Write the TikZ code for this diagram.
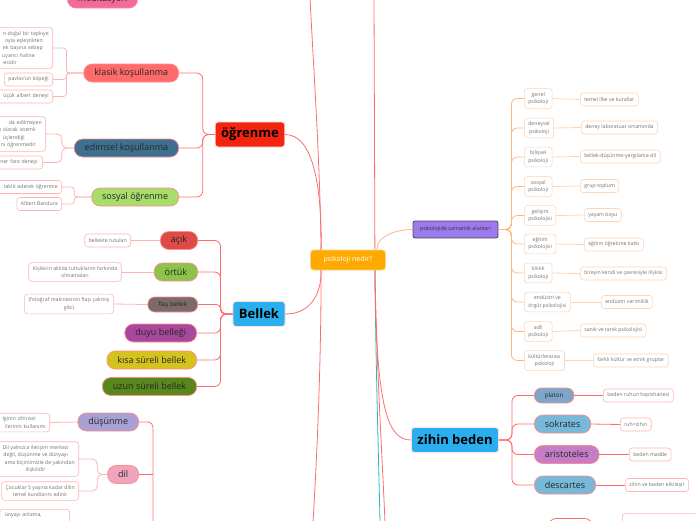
\documentclass[tikz,border=0pt]{standalone}
\usepackage{fontspec}
\setmainfont{Open Sans}
\usepackage{xcolor}
\usepackage{tikz}

\definecolor{linkred}{HTML}{FF6B6B}
\definecolor{leafred}{HTML}{FFB3B3}
\definecolor{linkor}{HTML}{FFB784}
\definecolor{leafor}{HTML}{FFD4B2}
\definecolor{linkteal}{HTML}{2BB7B3}
\definecolor{bord}{HTML}{FF8C8C}
\definecolor{nedirc}{HTML}{FFAA00}
\definecolor{ogrc}{HTML}{F4250F}
\definecolor{klasikc}{HTML}{FF6B6B}
\definecolor{edimselc}{HTML}{3E6F8E}
\definecolor{sosyalc}{HTML}{A8DD6C}
\definecolor{topicblue}{HTML}{29AFEE}
\definecolor{acikc}{HTML}{DE4B47}
\definecolor{ortukc}{HTML}{8CC34B}
\definecolor{flasc}{HTML}{7D6A6A}
\definecolor{duyuc}{HTML}{A8489C}
\definecolor{kisac}{HTML}{D5C31D}
\definecolor{uzunc}{HTML}{58881B}
\definecolor{dusunc}{HTML}{A9A1D3}
\definecolor{dilpink}{HTML}{EEA5BD}
\definecolor{uzmanc}{HTML}{9D79EE}
\definecolor{platonc}{HTML}{7EA6CA}
\definecolor{sokratc}{HTML}{78B8D8}
\definecolor{aristoc}{HTML}{C67DC7}
\definecolor{meditc}{HTML}{F26A9B}

\begin{document}
\begin{tikzpicture}[x=1pt,y=-1pt,line width=0.8pt,
  topic/.style={rounded corners=3pt,draw=red!12,line width=0.8pt,text=black,
    font=\fontsize{13}{15}\selectfont\bfseries,inner xsep=6pt,minimum height=25pt},
  branch/.style={rounded corners=8.5pt,draw=bord,line width=0.7pt,text=black!85,
    font=\fontsize{9}{10}\selectfont,inner xsep=10.5pt,minimum height=18pt},
  minibranch/.style={branch,rounded corners=7pt,font=\fontsize{6.2}{7}\selectfont,
    inner xsep=10.5pt,minimum height=15pt},
  leaf/.style={rounded corners=3pt,draw=leafred,line width=0.6pt,fill=white,text=black!55,
    font=\fontsize{5.2}{7.4}\selectfont,inner xsep=4pt,inner ysep=3.6pt,minimum height=13pt,align=center},
  cutleaf/.style={leaf,align=right,text width=#1},
  orleaf/.style={leaf,draw=leafor},
  redlink/.style={draw=linkred,line width=0.8pt},
  leaflink/.style={draw=leafred,line width=0.8pt},
  orlink/.style={draw=linkor,line width=0.8pt},
  orleaflink/.style={draw=leafor,line width=0.8pt},
  teallink/.style={draw=linkteal,line width=0.8pt}]
  \useasboundingbox (0,0) rectangle (696,520);
  \clip (0,0) rectangle (696,520);

  % centre
  \node[draw=nedirc!50,fill=nedirc,rounded corners=3pt,text=white,
    font=\fontsize{7}{8}\selectfont,minimum width=75pt,minimum height=20pt] (nedir) at (348,260) {psikoloji nedir?};
  \coordinate (ustSol) at (310,-3);
  \coordinate (ustSag) at (374,-3);
  \coordinate (altSol) at (313,523);
  \coordinate (altTeal) at (380,523);
  \coordinate (altSag) at (385,523);

  % ogrenme
  \node[topic,fill=ogrc] (ogrenme) at (250,134.5) {öğrenme};
  \node[branch,fill=klasikc,anchor=east] (klasik) at (179,73) {klasik koşullanma};
  \node[branch,fill=edimselc,anchor=east] (edimsel) at (179,148) {edimsel koşullanma};
  \node[branch,fill=sosyalc,anchor=east] (sosyal) at (179,197) {sosyal öğrenme};
  \node[cutleaf=70pt,anchor=east] (kosulsuz) at (53,48) {n doğal bir tepkiye\\oyla eşleştikten\kern6pt\\ek başına sebep\kern6pt\\uyarıcı haline\kern14pt\\esidir\kern32pt};
  \node[leaf,anchor=east] (pavlov) at (53,79.5) {pavlov'un köpeği};
  \node[cutleaf=60pt,anchor=east] (albert) at (53,96.5) {üçük albert deneyi};
  \node[cutleaf=60pt,anchor=east] (pekistir) at (46,134) {da edilmeyen\\n olarak istemli\kern6pt\\üçlendiği\kern17pt\\nı öğrenmedir\kern6pt};
  \node[cutleaf=50pt,anchor=east] (skinner) at (43,162.5) {ner fare deneyi\kern1pt};
  \node[cutleaf=62pt,anchor=east] (taklit) at (62,187) {taklit ederek öğrenme};
  \node[leaf,anchor=east] (bandura) at (62,204) {Albert Bandura};
  \node[branch,fill=meditc] (medit) at (102.5,-1) {meditasyon};
  \coordinate (meditUst) at (156,-7);

  % bellek
  \node[topic,fill=topicblue] (bellek) at (259,314) {Bellek};
  \node[branch,fill=acikc,anchor=east] (acik) at (198,240.5) {açık};
  \node[branch,fill=ortukc,anchor=east] (ortuk) at (198,272) {örtük};
  \node[minibranch,fill=flasc,anchor=east] (flas) at (198,304.5) {flaş bellek};
  \node[branch,fill=duyuc,anchor=east] (duyu) at (197,333) {duyu belleği};
  \node[branch,fill=kisac,anchor=east] (kisa) at (197,360) {kısa süreli bellek};
  \node[branch,fill=uzunc,anchor=east] (uzun) at (197,386.5) {uzun süreli bellek};
  \node[leaf,anchor=east] (tutulan) at (131,240.5) {bellekte tutulan};
  \node[leaf] (farkinda) at (75,272) {Kişilerin aklıda tuttuklarını farkında\\olmamaları};
  \node[leaf] (fotograf) at (69,304) {(fotoğraf makinesinin flaşı çakmış\\gibi)};

  % dusunme
  \node[branch,fill=dusunc,anchor=east] (dusunme) at (139,422) {düşünme};
  \node[branch,fill=dilpink,anchor=east] (dil) at (139,474.5) {dil};
  \node[cutleaf=60pt,anchor=east] (bilgi) at (50,422.5) {lginin zihinsel\kern10pt\\ilerinin kullanımı};
  \node[leaf,anchor=east] (iletisim) at (79,459) {Dil yalnızca iletişim merkezi\\değil, düşünme ve dünyayı\\\hspace*{8pt}ama biçimimizle de yakından\\ilişkilidir};
  \node[leaf,anchor=east] (cocuklar) at (79,491) {Çocuklar 5 yaşına kadar dilin\\temel kurallarını edinir};
  \node[cutleaf=62pt,anchor=north east,text depth=12pt] (anlama) at (70,509) {ünyayı anlama,\kern24pt};
  \coordinate (dusunAlt) at (153,525);

  % uzmanlik alanlari
  \node[draw=black!70,fill=uzmanc,rounded corners=2pt,font=\fontsize{5.4}{6}\selectfont,text=black!80,
    minimum width=85pt,minimum height=17pt] (uzman) at (455.5,229.5) {psikolojide uzmanlık alanları};
  \node[orleaf,anchor=west] (genel) at (524,98.5) {genel\\psikoloji};
  \node[orleaf,anchor=west] (deneysel) at (524,128) {deneysel\\psikoloji};
  \node[orleaf,anchor=west] (bilissel) at (524,157) {bilişsel\\psikoloji};
  \node[orleaf,anchor=west] (sosyalp) at (524,186.5) {sosyal\\psikoloji};
  \node[orleaf,anchor=west] (gelisim) at (524,215.5) {gelişim\\psikolojisi};
  \node[orleaf,anchor=west] (egitim) at (524,244) {eğitim\\psikolojisi};
  \node[orleaf,anchor=west] (klinik) at (524,273) {klinik\\psikoloji};
  \node[orleaf,anchor=west] (endustri) at (524,302) {endüstri ve\\örgüt psikolojisi};
  \node[orleaf,anchor=west] (adli) at (524,331.5) {adli\\psikoloji};
  \node[orleaf,anchor=west] (kultur) at (524,360.5) {kültürlerarası\\psikoloji};
  \node[orleaf,anchor=west] (ilke) at (580,99.5) {temel ilke ve kurallar};
  \node[orleaf,anchor=west] (lab) at (581,127.5) {deney laboratuar ortamında};
  \node[orleaf,anchor=west] (yargi) at (580,156.5) {bellek-düşünme-yargılama-dil};
  \node[orleaf,anchor=west] (grup) at (580,186) {grup-toplum};
  \node[orleaf,anchor=west] (yasam) at (584,215) {yaşam boyu};
  \node[orleaf,anchor=west] (ogretim) at (584,244.5) {eğitim öğretime katkı};
  \node[orleaf,anchor=west] (birey) at (580,273.5) {bireyin kendi ve çevresiyle ilişkisi};
  \node[orleaf,anchor=west] (verim) at (601,302) {endüstri verimlilik};
  \node[orleaf,anchor=west] (sanik) at (580,330.5) {sanık ve tanık psikolojisi};
  \node[orleaf,anchor=west] (etnik) at (593,360.5) {farklı kültür ve etnik gruplar};

  % zihin beden
  \node[topic,fill=topicblue] (zihin) at (455,440) {zihin beden};
  \node[minibranch,fill=platonc,anchor=west] (platon) at (534,395.5) {platon};
  \node[branch,fill=sokratc,anchor=west] (sokrates) at (534,424) {sokrates};
  \node[branch,fill=aristoc,anchor=west] (aristo) at (534,454.5) {aristoteles};
  \node[branch,fill=sokratc,anchor=west] (descartes) at (534,485) {descartes};
  \node[leaf,anchor=west] (hapis) at (603,395.5) {beden ruhun hapishanesi};
  \node[leaf,anchor=west] (ruh) at (620,424.5) {ruh=zihin};
  \node[leaf,anchor=west] (madde) at (629,454.5) {beden madde};
  \node[leaf,anchor=west] (etkilesir) at (625,485) {zihin ve beden etkileşir};
  \node[draw=linkred,fill=white,rounded corners=8pt,minimum width=44pt,minimum height=18pt,anchor=north west] (altdal) at (548,518) {};
  \node[leaf,anchor=north west,minimum width=80pt,minimum height=14pt] (altyaprak) at (622,513) {};

  % connectors
  \draw[redlink] ([xshift=11pt]nedir.north west) .. controls (320,160) and (313,60) .. (ustSol);
  \draw[redlink] ([xshift=-11pt]nedir.north east) -- (ustSag);
  \draw[redlink] (ogrenme.east) .. controls (314,134.5) and (322,190) .. ([xshift=11pt]nedir.north west);
  \draw[redlink] (bellek.east) .. controls (312,314) and (321.5,292) .. ([xshift=11pt]nedir.south west);
  \draw[redlink] ([xshift=11pt]nedir.south west) .. controls (321,380) and (316,470) .. (altSol);
  \draw[teallink] ([xshift=-11pt]nedir.south east) .. controls (376,380) and (379,470) .. (altTeal);
  \draw[redlink] ([xshift=-11pt]nedir.south east) .. controls (377,380) and (383,470) .. (altSag);
  \draw[redlink] ([xshift=-11pt]nedir.south east) .. controls (376,410) and (388,440) .. (zihin.west);
  \draw[orlink] ([xshift=-9pt]nedir.north east) .. controls +(0,-14) and +(-16,0) .. (uzman.west);

  \foreach \c in {klasik,edimsel,sosyal}
    \draw[redlink,rounded corners=6pt] (ogrenme.west) -- ++(-12,0) |- (\c.east);
  \foreach \c in {kosulsuz,pavlov,albert}
    \draw[leaflink,rounded corners=3pt] (klasik.west) -- ++(-17,0) |- (\c.east);
  \foreach \c in {pekistir,skinner}
    \draw[leaflink,rounded corners=5pt] (edimsel.west) -- ++(-12,0) |- (\c.east);
  \foreach \c in {taklit,bandura}
    \draw[leaflink,rounded corners=3pt] (sosyal.west) -- ++(-17,0) |- (\c.east);
  \draw[leaflink] (medit.east) .. controls +(8,0) and +(-4,4) .. (meditUst);

  \foreach \c in {acik,ortuk,duyu,kisa,uzun}
    \draw[redlink,rounded corners=6pt] (bellek.west) -- ++(-12,0) |- (\c.east);
  \draw[redlink,rounded corners=4pt] (bellek.west) -- ++(-12,0) |- (flas.east);
  \foreach \c/\l in {acik/tutulan,ortuk/farkinda,flas/fotograf}
    \draw[leaflink] (\c.west) -- (\l.east);

  \draw[redlink,rounded corners=5pt] (dusunme.east) -| (dusunAlt);
  \draw[redlink] (dil.east) -- (dil.east -| dusunAlt);
  \draw[leaflink] (dusunme.west) -- (bilgi.east);
  \foreach \c in {iletisim,cocuklar}
    \draw[leaflink,rounded corners=5pt] (dil.west) -- ++(-10,0) |- (\c.east);

  \foreach \c in {genel,deneysel,bilissel,sosyalp,gelisim,egitim,klinik,endustri,adli,kultur}
    \draw[orlink,rounded corners=6pt] (uzman.east) -- ++(13,0) |- (\c.west);
  \foreach \c/\l in {genel/ilke,deneysel/lab,bilissel/yargi,sosyalp/grup,gelisim/yasam,
      egitim/ogretim,klinik/birey,endustri/verim,adli/sanik,kultur/etnik}
    \draw[orleaflink] (\c.east) -- (\l.west);

  \foreach \c in {platon,sokrates,aristo,descartes}
    \draw[redlink,rounded corners=6pt] (zihin.east) -- ++(13,0) |- (\c.west);
  \foreach \c/\l in {platon/hapis,sokrates/ruh,aristo/madde,descartes/etkilesir}
    \draw[redlink] (\c.east) -- (\l.west);
\end{tikzpicture}
\end{document}
